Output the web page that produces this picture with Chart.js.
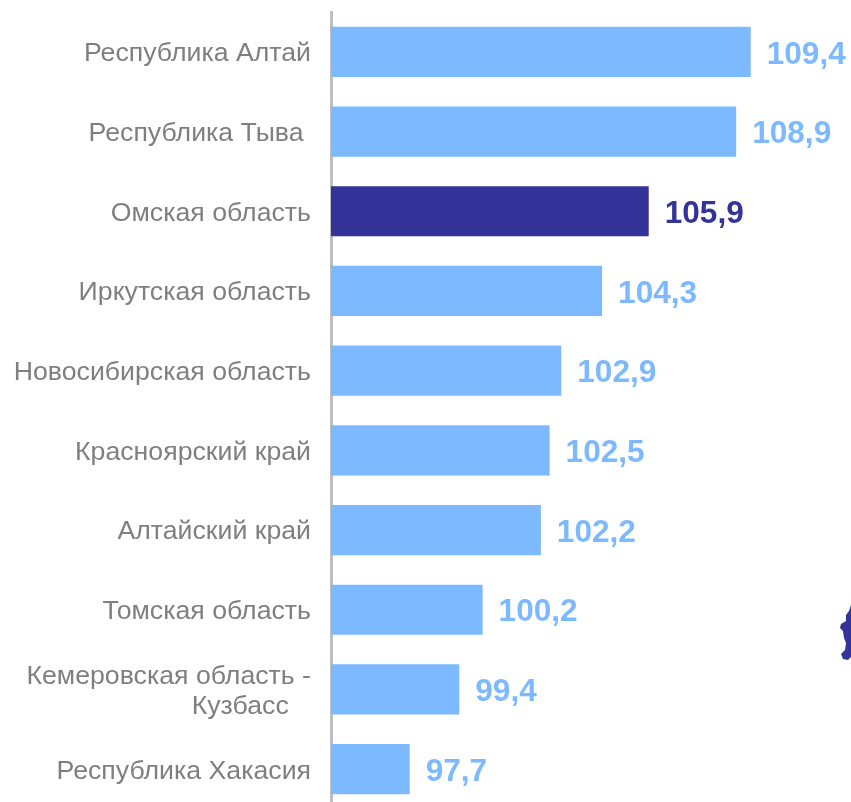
<!DOCTYPE html>
<html>
<head>
<meta charset="utf-8">
<style>
    html, body { margin: 0; padding: 0; background: #fff; overflow: hidden; }
    canvas { display: block; }
</style>
<script src="https://cdn.jsdelivr.net/npm/chart.js@4"></script>
</head>
<body>
<canvas id="bar-chart" width="851" height="812"></canvas>
<script>
var regions = [
    "Республика Алтай",
    "Республика Тыва\u00A0",
    "Омская область",
    "Иркутская область",
    "Новосибирская область",
    "Красноярский край",
    "Алтайский край",
    "Томская область",
    ["Кемеровская область -", "Кузбасс\u00A0\u00A0\u00A0"],
    "Республика Хакасия"
];
var values = [109.4, 108.9, 105.9, 104.3, 102.9, 102.5, 102.2, 100.2, 99.4, 97.7];
var highlighted = "Омская область";

var lightBlue = "#7DB9FF";
var darkBlue = "#333399";
var colors = regions.map(function (r) { return r == highlighted ? darkBlue : lightBlue; });

// подписи значений справа от столбцов
var valueLabels = {
    id: "valueLabels",
    afterDatasetsDraw: function (chart) {
        var ctx = chart.ctx;
        var bars = chart.getDatasetMeta(0).data;
        ctx.save();
        ctx.font = "bold 31.6px 'Liberation Sans'";
        ctx.textBaseline = "middle";
        ctx.textAlign = "left";
        for (var i = 0; i < bars.length; i++) {
            ctx.fillStyle = colors[i];
            ctx.fillText(values[i].toFixed(1).replace(".", ","), bars[i].x + 16, bars[i].y + 3);
        }
        ctx.restore();
    }
};

// подписи оси чуть ниже центра столбца
var shiftTicks = {
    id: "shiftTicks",
    beforeDraw: function (chart) {
        chart.scales.y.getLabelItems().forEach(function (item) {
            item.options.translation[1] += 2;
        });
    }
};

// обрезанный край карты у правой границы картинки
var mapEdge = {
    id: "mapEdge",
    afterDraw: function (chart) {
        var pts = [[851,605],[849,611],[846,615],[846,621],[841,624],[840,628],[843,631],[844,638],[846,643],[845,650],[841,654],[843,659],[848,660],[851,657]];
        var ctx = chart.ctx;
        ctx.save();
        ctx.fillStyle = darkBlue;
        ctx.beginPath();
        ctx.moveTo(pts[0][0], pts[0][1]);
        for (var i = 1; i < pts.length; i++) ctx.lineTo(pts[i][0], pts[i][1]);
        ctx.closePath();
        ctx.fill();
        ctx.restore();
    }
};

var chart = new Chart(document.getElementById("bar-chart"), {
    type: "bar",
    data: {
        labels: regions,
        datasets: [{
            data: values,
            backgroundColor: colors,
            barPercentage: 1,
            categoryPercentage: 0.63
        }]
    },
    options: {
        indexAxis: "y",
        responsive: false,
        animation: false,
        layout: { padding: { top: 12, bottom: 3 } },
        plugins: {
            legend: { display: false },
            tooltip: { enabled: false }
        },
        scales: {
            x: { display: false, min: 95, max: 112.84 },
            y: {
                afterFit: function (scale) {
                    scale.width = 331;
                    // без запаса под первую и последнюю подпись
                    scale.paddingTop = 0;
                    scale.paddingBottom = 0;
                },
                grid: { display: false, drawTicks: false },
                border: { display: true, color: "#BFBFBF", width: 3 },
                ticks: {
                    color: "#7F7F7F",
                    padding: 20,
                    autoSkip: false,
                    font: { family: "'Liberation Sans'", size: 26.7, lineHeight: 1.123 }
                }
            }
        }
    },
    plugins: [valueLabels, shiftTicks, mapEdge]
});
</script>
</body>
</html>
